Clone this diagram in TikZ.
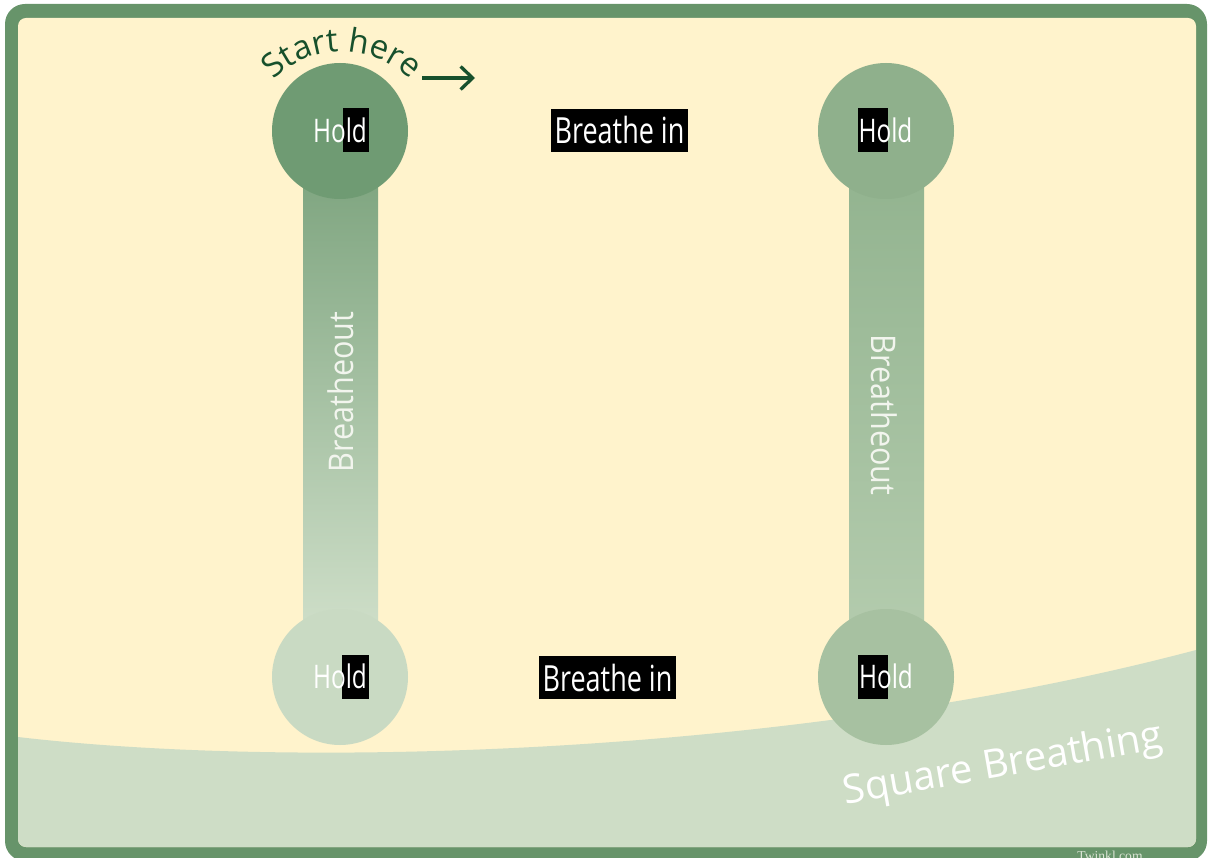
\documentclass[tikz,border=0pt]{standalone}
\usepackage{fontspec}
\setmainfont{Open Sans}
\newfontfamily\condfont[FakeStretch=0.75]{Open Sans}
\newfontfamily\outfont[FakeStretch=0.9]{Open Sans}
\newfontfamily\markfont{Liberation Serif}
\usetikzlibrary{arrows.meta,calc,decorations.text}

\definecolor{framegreen}{HTML}{67946A}
\definecolor{cream}{HTML}{FFF3CC}
\definecolor{wavegreen}{HTML}{CEDDC6}
\definecolor{holdA}{HTML}{6F9B73}
\definecolor{holdB}{HTML}{8FB08C}
\definecolor{holdC}{HTML}{C9DAC3}
\definecolor{holdD}{HTML}{A7C1A1}
\definecolor{barAtop}{HTML}{80A681}
\definecolor{barAbot}{HTML}{CEDEC8}
\definecolor{barBtop}{HTML}{93B490}
\definecolor{barBbot}{HTML}{B3CBAD}
\definecolor{startgreen}{HTML}{17502C}
\definecolor{outwhite}{HTML}{F2F5EE}
\definecolor{markgray}{HTML}{DCE5D6}

\tikzset{
  holdcircle/.style={circle, minimum size=136pt, inner sep=0pt},
  holdlabel/.style={text=white, font=\condfont\fontsize{32.5}{38}\selectfont, inner sep=0pt, anchor=base},
  holdmask/.style={fill=black, inner sep=0pt, minimum width=#1, minimum height=44pt},
  inbox/.style={fill=black, text=white, font=\condfont\fontsize{36}{42}\selectfont,
                minimum width=137pt, minimum height=43pt, inner sep=0pt},
  outlabel/.style={text=outwhite, font=\outfont\fontsize{34}{40}\selectfont, inner sep=0pt},
}

\begin{document}
\begin{tikzpicture}[x=1pt,y=-1pt]
\useasboundingbox (0,0) rectangle (1208,858);

% frame and paper
\fill[framegreen, rounded corners=20pt] (5,4) rectangle (1207,861);
\fill[cream, rounded corners=8pt] (18,18) rectangle (1196,847);

% lower wave
\begin{scope}
  \clip[rounded corners=8pt] (18,18) rectangle (1196,847);
  \fill[wavegreen] (18,737) .. controls (300,770) and (800,755) .. (1196,650)
        -- (1196,847) -- (18,847) -- cycle;
\end{scope}

% circle centres
\coordinate (cTL) at (340,131);
\coordinate (cTR) at (886,131);
\coordinate (cBL) at (340,677);
\coordinate (cBR) at (886,677);

% bars joining the circles
\shade[top color=barAtop, bottom color=barAbot]
  ($(cTL)+(-37,50)$) rectangle ($(cBL)+(38,-50)$);
\shade[top color=barBtop, bottom color=barBbot]
  ($(cTR)+(-37,50)$) rectangle ($(cBR)+(38,-50)$);

% circles
\node[holdcircle, fill=holdA] (hTL) at (cTL) {};
\node[holdcircle, fill=holdB] (hTR) at (cTR) {};
\node[holdcircle, fill=holdC] (hBL) at (cBL) {};
\node[holdcircle, fill=holdD] (hBR) at (cBR) {};

% Hold labels
\node[holdmask=26pt] (mTL) at ($(cTL)+(16,-0.5)$) {};
\node[holdmask=30pt] (mTR) at ($(cTR)+(-13,-0.5)$) {};
\node[holdmask=27pt] (mBL) at ($(cBL)+(15.5,-0.5)$) {};
\node[holdmask=30pt] (mBR) at ($(cBR)+(-13,-0.5)$) {};
\node[holdlabel] (tTL) at ($(cTL)+(0,11.5)$) {Hold};
\node[holdlabel] (tTR) at ($(cTR)+(-0.5,11.5)$) {Hold};
\node[holdlabel] (tBL) at ($(cBL)+(0,11.5)$) {Hold};
\node[holdlabel] (tBR) at ($(cBR)+(0,11.5)$) {Hold};

% Breathe in
\node[inbox] (inTop) at (619.5,130.5) {Breathe in};
\node[inbox] (inBot) at (607.5,677.5) {Breathe in};

% Breathe out
\node[outlabel, rotate=90] (outL) at (341,392) {Breatheout};
\node[outlabel, rotate=-90] (outR) at (884,415) {Breatheout};

% start marker
\path[decorate, decoration={text along path, text align=center,
      text color=startgreen, text={|\fontsize{33}{38}\selectfont|Start here}}]
  (268,86) .. controls (306,40) and (378,40) .. (416,86);
\coordinate (arrS) at (422,78);
\coordinate (arrE) at (475,78);
\draw[startgreen, line width=3.3pt, -{Straight Barb[length=12pt,width=23pt]}] (arrS) -- (arrE);

% title
\node[text=white, rotate=10, inner sep=0pt, font=\fontsize{40}{48}\selectfont] (title) at (1003,766) {Square Breathing};

% mark
\node[text=markgray, anchor=base, inner sep=0pt, font=\markfont\fontsize{13.6}{16}\selectfont] (mark) at (1110,860) {Twinkl.com};
\end{tikzpicture}
\end{document}
